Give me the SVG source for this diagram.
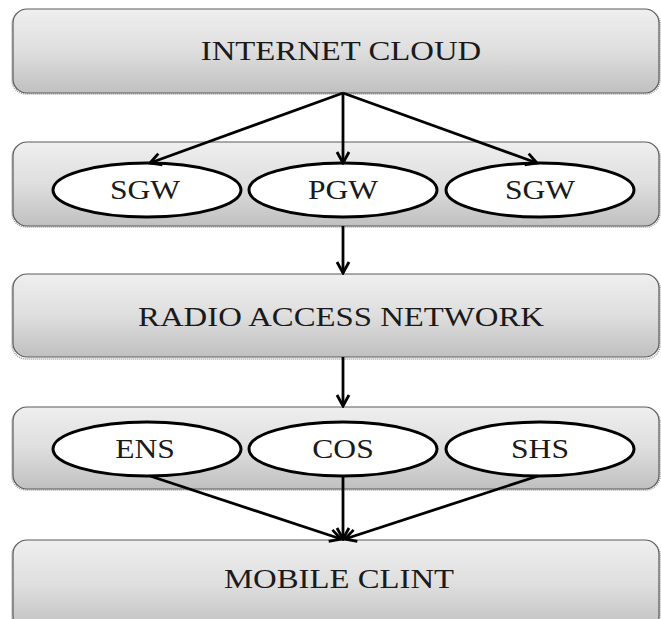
<svg xmlns="http://www.w3.org/2000/svg" width="661" height="619" viewBox="0 0 661 619">
<defs>
  <linearGradient id="boxg" x1="0" y1="0" x2="0" y2="1">
    <stop offset="0" stop-color="#efefef"/>
    <stop offset="0.5" stop-color="#dedede"/>
    <stop offset="1" stop-color="#c0c0c0"/>
  </linearGradient>
  <marker id="arr" markerUnits="userSpaceOnUse" markerWidth="16" markerHeight="16" viewBox="0 0 16 16" refX="14" refY="8" orient="auto">
    <path d="M3,2 L14,8 L3,14" fill="none" stroke="#000" stroke-width="2.8" stroke-linejoin="miter"/>
  </marker>
</defs>
<style>
  .box { fill: url(#boxg); stroke: #5a5a5a; stroke-width: 1.2; }
  .shadow { fill: none; stroke: #9a9a9a; stroke-width: 1.5; stroke-dasharray: 1 1; }
  .ell { fill: #ffffff; stroke: #000; stroke-width: 3; }
  .lbl { font-family: "Liberation Serif", "Times New Roman", serif; font-size: 28px; fill: #1a1a1a; text-anchor: middle; }
  .elbl { font-family: "Liberation Serif", "Times New Roman", serif; font-size: 27px; fill: #1a1a1a; text-anchor: middle; }
  .conn { stroke: #000; stroke-width: 2.8; fill: none; marker-end: url(#arr); }
</style>
<rect width="661" height="619" fill="#ffffff"/>

<g id="internet-cloud">
  <rect class="shadow" x="12" y="10" width="648" height="84" rx="14"/>
  <rect class="box" x="13" y="9" width="646" height="84" rx="14"/>
  <text class="lbl" transform="translate(341,60) scale(1.17,1)">INTERNET CLOUD</text>
</g>

<g id="gateway-layer">
  <rect class="shadow" x="12" y="143" width="648" height="84" rx="14"/>
  <rect class="box" x="13" y="142" width="646" height="84" rx="14"/>
</g>
<g id="sgw-left">
  <ellipse class="ell" cx="147" cy="190" rx="94" ry="27"/>
  <text class="elbl" transform="translate(145,199) scale(1.17,1)">SGW</text>
</g>
<g id="pgw">
  <ellipse class="ell" cx="343" cy="190" rx="94" ry="27"/>
  <text class="elbl" transform="translate(343,199) scale(1.17,1)">PGW</text>
</g>
<g id="sgw-right">
  <ellipse class="ell" cx="540" cy="190" rx="94" ry="27"/>
  <text class="elbl" transform="translate(540,199) scale(1.17,1)">SGW</text>
</g>

<g id="radio-access-network">
  <rect class="shadow" x="12" y="275" width="648" height="84" rx="14"/>
  <rect class="box" x="13" y="274" width="646" height="83" rx="14"/>
  <text class="lbl" transform="translate(341,326) scale(1.17,1)">RADIO ACCESS NETWORK</text>
</g>

<g id="service-layer">
  <rect class="shadow" x="12" y="408" width="648" height="82" rx="14"/>
  <rect class="box" x="13" y="407" width="646" height="82" rx="14"/>
</g>
<g id="ens">
  <ellipse class="ell" cx="147" cy="449" rx="94" ry="27"/>
  <text class="elbl" transform="translate(145,458) scale(1.17,1)">ENS</text>
</g>
<g id="cos">
  <ellipse class="ell" cx="343" cy="449" rx="94" ry="27"/>
  <text class="elbl" transform="translate(343,458) scale(1.17,1)">COS</text>
</g>
<g id="shs">
  <ellipse class="ell" cx="540" cy="449" rx="94" ry="27"/>
  <text class="elbl" transform="translate(540,458) scale(1.17,1)">SHS</text>
</g>

<g id="mobile-clint">
  <rect class="shadow" x="12" y="541" width="648" height="90" rx="14"/>
  <rect class="box" x="13" y="540" width="646" height="90" rx="14"/>
  <text class="lbl" transform="translate(339,588) scale(1.17,1)">MOBILE CLINT</text>
</g>

<g id="connectors">
  <line class="conn" x1="343" y1="93" x2="150" y2="163"/>
  <line class="conn" x1="343" y1="93" x2="343" y2="163"/>
  <line class="conn" x1="343" y1="93" x2="537" y2="163"/>
  <line class="conn" x1="343" y1="226" x2="343" y2="273"/>
  <line class="conn" x1="343" y1="357" x2="343" y2="406"/>
  <line class="conn" x1="150" y1="476" x2="341" y2="539"/>
  <line class="conn" x1="343" y1="476" x2="343" y2="539"/>
  <line class="conn" x1="538" y1="476" x2="345" y2="539"/>
</g>
</svg>
